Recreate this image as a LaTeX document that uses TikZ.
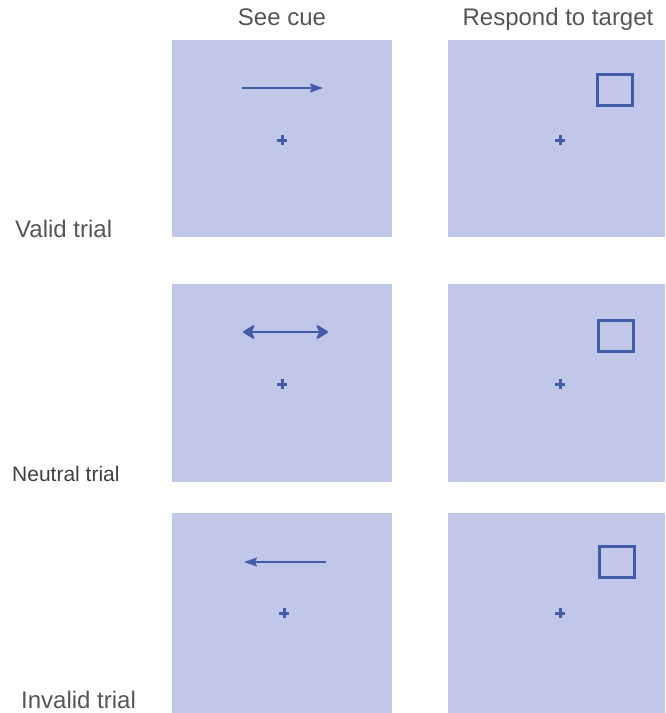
\documentclass[tikz,border=0pt]{standalone}
\usepackage{fontspec}
\setmainfont{Liberation Sans}
\usetikzlibrary{arrows.meta}

\definecolor{panelfill}{RGB}{193,199,233}
\definecolor{markblue}{RGB}{66,92,170}
\definecolor{labelgray}{RGB}{85,85,85}

\tikzset{
  panel/.style={rectangle, fill=panelfill, draw=none, inner sep=0pt, anchor=north west},
  coltitle/.style={text=labelgray, font=\fontsize{24}{27}\selectfont, anchor=base, inner sep=0pt},
  rowlabel/.style={text=labelgray, font=\fontsize{24}{27}\selectfont, anchor=base west, inner sep=0pt},
  cueline/.style={draw=markblue, line width=1.6pt},
  fixmark/.style={draw=markblue, line width=3pt},
  targetbox/.style={rectangle, draw=markblue, line width=3pt, fill=none, minimum width=35pt, minimum height=31pt, inner sep=0pt},
  bothhead/.tip={Stealth[length=14pt, width=17pt, inset=4.5pt, line width=2pt, round, fill=markblue]},
  cuehead/.tip={Stealth[length=13pt, width=9pt, inset=2pt]},
}

\begin{document}
\begin{tikzpicture}[x=1pt, y=-1pt]
  \useasboundingbox (0,0) rectangle (665,713);

  % column headings
  \node[coltitle] (hcue) at (282,25) {See cue};
  \node[coltitle] (htarget) at (558,25) {Respond to target};

  % display panels
  \node[panel, minimum width=220pt, minimum height=197pt] (p11) at (172,40) {};
  \node[panel, minimum width=217pt, minimum height=197pt] (p12) at (448,40) {};
  \node[panel, minimum width=220pt, minimum height=198pt] (p21) at (172,284) {};
  \node[panel, minimum width=217pt, minimum height=198pt] (p22) at (448,284) {};
  \node[panel, minimum width=220pt, minimum height=200pt] (p31) at (172,513) {};
  \node[panel, minimum width=217pt, minimum height=200pt] (p32) at (448,513) {};

  % trial labels
  \node[rowlabel] (lvalid) at (15,237) {Valid trial};
  \node[rowlabel, text=black!75, font=\fontsize{21}{24}\selectfont] (lneutral) at (12,481) {Neutral trial};
  \node[rowlabel] (linvalid) at (21,708) {Invalid trial};

  % cue arrows
  \coordinate (c1a) at (242,88);  \coordinate (c1b) at (323,88);
  \coordinate (c2a) at (243,332); \coordinate (c2b) at (328,332);
  \coordinate (c3a) at (244,562); \coordinate (c3b) at (326,562);
  \draw[cueline, -cuehead] (c1a) -- (c1b);
  \draw[cueline, line width=2pt, bothhead-bothhead] (c2a) -- (c2b);
  \draw[cueline, cuehead-] (c3a) -- (c3b);

  % fixation crosses
  \foreach \n/\x/\y in {f11/282/140, f12/560/140, f21/282/384, f22/560/384, f31/284/613, f32/560/613} {
    \coordinate (\n) at (\x,\y);
    \draw[fixmark] ([xshift=-5pt]\n) -- ([xshift=5pt]\n);
    \draw[fixmark] ([yshift=-5pt]\n) -- ([yshift=5pt]\n);
  }

  % targets
  \node[targetbox] (t1) at (614.5,89.5) {};
  \node[targetbox] (t2) at (615.5,336) {};
  \node[targetbox] (t3) at (616.5,561.5) {};
\end{tikzpicture}
\end{document}
